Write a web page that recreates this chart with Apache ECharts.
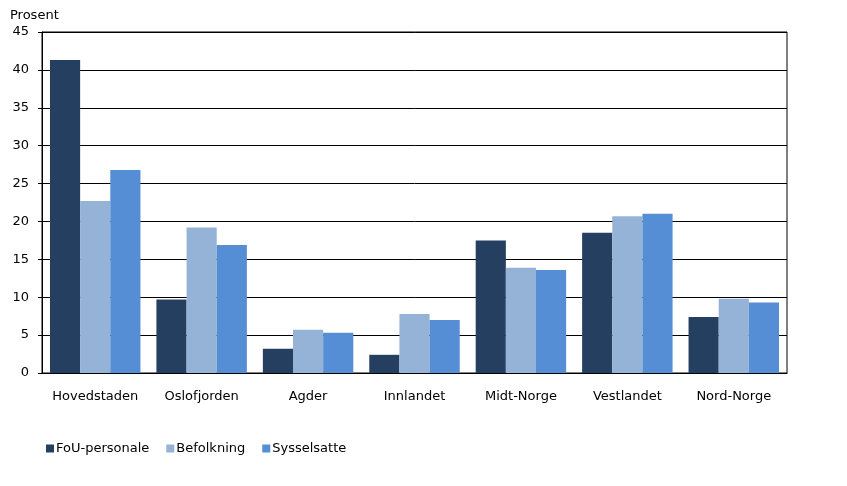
<!DOCTYPE html>
<html>
<head>
<meta charset="utf-8">
<script src="https://cdn.jsdelivr.net/npm/echarts@6/dist/echarts.min.js"></script>
<style>html,body{margin:0;padding:0;background:#fff}#c{width:847px;height:486px}</style>
</head>
<body>
<div id="c"></div>
<script>
const categories = ['Hovedstaden','Oslofjorden','Agder','Innlandet','Midt-Norge','Vestlandet','Nord-Norge'];
const fouPersonale = [41.3, 9.7, 3.2, 2.4, 17.5, 18.5, 7.4];
const befolkning = [22.7, 19.2, 5.7, 7.8, 13.9, 20.7, 9.8];
const sysselsatte = [26.8, 16.9, 5.3, 7.0, 13.6, 21.0, 9.3];
const seriesNames = ['FoU-personale','Befolkning','Sysselsatte'];
const yTicks = {min: 0, max: 45, interval: 5};

const font = 'DejaVu Sans, Verdana, sans-serif';
const chart = echarts.init(document.getElementById('c'), null, {renderer: 'canvas'});
chart.setOption({
  animation: false,
  color: ['#243F60', '#95B3D7', '#558ED5'],
  title: {
    text: 'Prosent', left: 5, top: 4,
    textStyle: {fontFamily: font, fontSize: 13, fontWeight: 'normal', color: '#000'}
  },
  grid: {left: 42, right: 60, top: 32, bottom: 113, show: true, borderColor: '#000', borderWidth: 1, containLabel: false},
  legend: {
    left: 41, top: 437, itemWidth: 8, itemHeight: 8, itemGap: 17, icon: 'rect',
    textStyle: {fontFamily: font, fontSize: 13, color: '#000', padding: [0,0,0,-3]},
    data: seriesNames
  },
  xAxis: {
    type: 'category', data: categories,
    axisLine: {lineStyle: {color: '#000'}},
    axisTick: {show: false},
    axisLabel: {fontFamily: font, fontSize: 13, color: '#000', margin: 17, interval: 0, hideOverlap: false}
  },
  yAxis: {
    type: 'value', min: yTicks.min, max: yTicks.max, interval: yTicks.interval,
    axisLine: {show: true, lineStyle: {color: '#000'}},
    axisTick: {show: true, length: 4, lineStyle: {color: '#000'}},
    splitLine: {lineStyle: {color: '#000', width: 1}},
    axisLabel: {fontFamily: font, fontSize: 13, color: '#000', margin: 13}
  },
  series: [
    {name: seriesNames[0], type: 'bar', data: fouPersonale, barGap: '0%', barCategoryGap: '15%'},
    {name: seriesNames[1], type: 'bar', data: befolkning, barGap: '0%', barCategoryGap: '15%'},
    {name: seriesNames[2], type: 'bar', data: sysselsatte, barGap: '0%', barCategoryGap: '15%'}
  ]
});
</script>
</body>
</html>
